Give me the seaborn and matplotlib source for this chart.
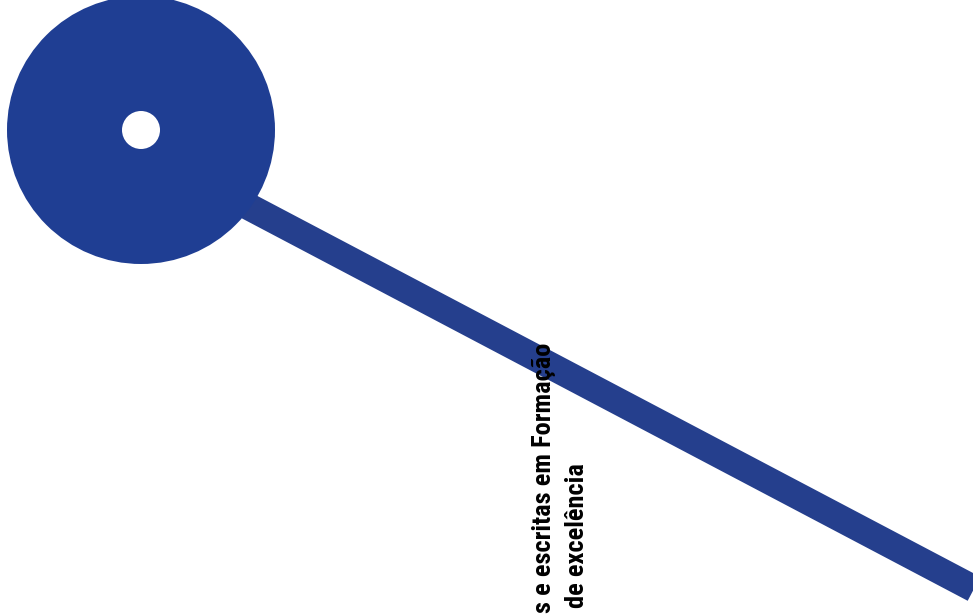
import matplotlib
matplotlib.use("Agg")
import matplotlib.pyplot as plt
from matplotlib.patches import Circle
import seaborn as sns
import pandas as pd

sns.set_theme(style="white")

# canvas in pixel units (y grows downward)
W, H = 973, 614

# timeline node (big donut)
node_x = [141]
node_y = [130]
node_r_outer = [134]
node_r_inner = [19]

# timeline segment
line_x = [200, 1000]
line_y = [181, 602.5]

# rotated label lines
label_lines = ["s e escritas em Formação", "de excelência"]
label_x = [544, 577]
label_top = [343, 463]

node_color = "#1f3e93"
line_color = "#253f8d"

fig = plt.figure(figsize=(W / 100, H / 100), dpi=100)
ax = fig.add_axes([0, 0, 1, 1])

seg = pd.DataFrame({"x": line_x, "y": line_y})
sns.lineplot(data=seg, x="x", y="y", ax=ax, color=line_color, linewidth=19.5,
             solid_capstyle="butt", sort=False)

for x, y, ro, ri in zip(node_x, node_y, node_r_outer, node_r_inner):
    ax.add_patch(Circle((x, y), ro, color=node_color, zorder=3, lw=0))
    ax.add_patch(Circle((x, y), ri, color="white", zorder=4, lw=0))

for txt, x, top in zip(label_lines, label_x, label_top):
    ax.text(x, top, txt, rotation=90, ha="center", va="top", fontsize=19,
            fontweight="bold", fontstretch="condensed",
            family=["Roboto Condensed", "Roboto"],
            color="black", zorder=5)

ax.set_xlim(0, W)
ax.set_ylim(H, 0)
ax.axis("off")
fig.savefig("out.png", dpi=100)
